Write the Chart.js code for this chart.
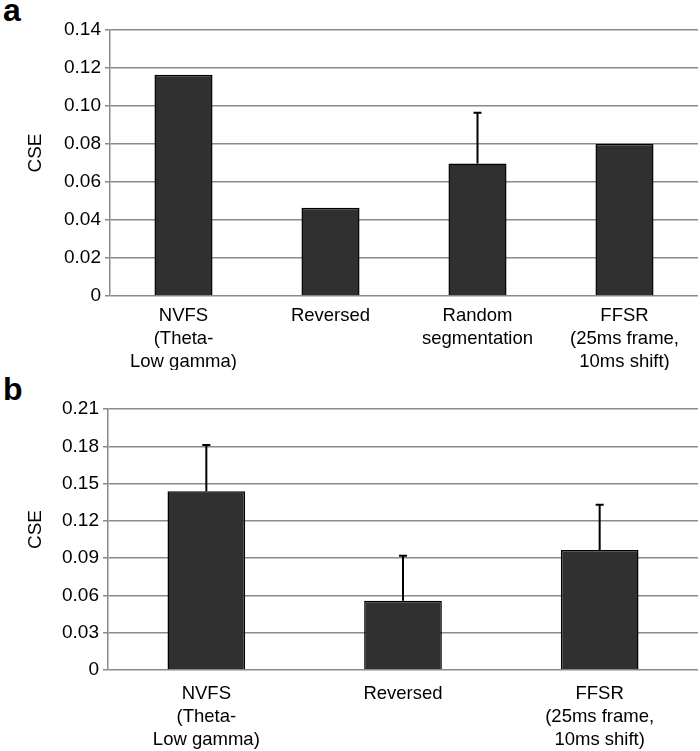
<!DOCTYPE html>
<html>
<head>
<meta charset="utf-8">
<script src="https://cdn.jsdelivr.net/npm/chart.js@4"></script>
<style>
  body { margin: 0; background: #fff; font-family: "Liberation Sans", Arial, sans-serif; }
  .wrap { position: relative; width: 700px; height: 751px; }
  .panel { position: absolute; left: 0; }
  .tag { position: absolute; left: 3px; font: bold 32px "Liberation Sans", Arial, sans-serif; color: #000; }
</style>
</head>
<body>
<div class="wrap">
  <div class="tag" style="top:-8px">a</div>
  <div class="tag" style="top:371px">b</div>
  <canvas id="chartA" class="panel" style="top:0" width="700" height="370"></canvas>
  <canvas id="chartB" class="panel" style="top:375px" width="700" height="376"></canvas>
</div>
<script>
// panel a
const labelsA = [['NVFS', '(Theta-', 'Low gamma)'], 'Reversed', ['Random', 'segmentation'], ['FFSR', '(25ms frame,', '10ms shift)']];
const cseA = [0.1165, 0.0465, 0.0698, 0.080];
const errA = [0, 0, 0.0267, 0];
const ticksA = [0, 0.02, 0.04, 0.06, 0.08, 0.10, 0.12, 0.14];

// panel b
const labelsB = [['NVFS', '(Theta-', 'Low gamma)'], 'Reversed', ['FFSR', '(25ms frame,', '10ms shift)']];
const cseB = [0.1438, 0.0558, 0.0966];
const errB = [0.0372, 0.0362, 0.0364];
const ticksB = [0, 0.03, 0.06, 0.09, 0.12, 0.15, 0.18, 0.21];

const family = '"Liberation Sans", Arial, sans-serif';
const yFont = { family: family, size: 19 };
const xFont = { family: family, size: 18.5, lineHeight: 1.25 };

// upper error bars + axis title, drawn through the chart's own scales
const extras = {
  id: 'extras',
  afterDatasetsDraw(chart) {
    const errs = chart.options.plugins.extras.errors;
    const meta = chart.getDatasetMeta(0);
    const y = chart.scales.y;
    const vals = chart.data.datasets[0].data;
    const ctx = chart.ctx;
    ctx.save();
    ctx.strokeStyle = '#000';
    ctx.lineWidth = 2;
    meta.data.forEach((bar, i) => {
      if (!errs[i]) return;
      const top = y.getPixelForValue(vals[i] + errs[i]);
      ctx.beginPath();
      ctx.moveTo(bar.x, bar.y);
      ctx.lineTo(bar.x, top);
      ctx.moveTo(bar.x - 4, top);
      ctx.lineTo(bar.x + 4, top);
      ctx.stroke();
    });
    // y title, sits a little above the middle like the original
    ctx.translate(36, (y.top + y.bottom) / 2 - 10);
    ctx.rotate(-Math.PI / 2);
    ctx.fillStyle = '#000';
    ctx.font = '19px ' + family;
    ctx.textAlign = 'center';
    ctx.textBaseline = 'middle';
    ctx.fillText('CSE', 0, 0);
    ctx.restore();
  }
};

function makeChart(id, labels, values, errs, ticks, yWidth, xHeight, padTop, xPad) {
  return new Chart(document.getElementById(id), {
    type: 'bar',
    data: {
      labels: labels,
      datasets: [{
        data: values,
        backgroundColor: '#303030',
        borderColor: '#000',
        borderWidth: 1.5,
        categoryPercentage: 1,
        barPercentage: 0.395
      }]
    },
    options: {
      responsive: false,
      animation: false,
      layout: { padding: { top: padTop, right: 2, left: 0, bottom: 0 } },
      plugins: {
        legend: { display: false },
        tooltip: { enabled: false },
        extras: { errors: errs }
      },
      scales: {
        x: {
          grid: { display: false },
          border: { display: false },
          ticks: { color: '#000', font: xFont, padding: xPad, maxRotation: 0, autoSkip: false },
          afterFit(s) { s.height = xHeight; }
        },
        y: {
          min: ticks[0],
          max: ticks[ticks.length - 1],
          afterBuildTicks(s) { s.ticks = ticks.map(v => ({ value: v })); },
          grid: { color: '#8a8a8a', lineWidth: 1.5, tickLength: 5 },
          border: { color: '#8a8a8a', width: 1.5 },
          ticks: {
            color: '#000', font: yFont, padding: 4,
            callback: v => v === 0 ? '0' : v.toFixed(2)
          },
          afterFit(s) { s.width = yWidth; }
        }
      }
    },
    plugins: [extras]
  });
}

makeChart('chartA', labelsA, cseA, errA, ticksA, 110, 74, 30, 0);
makeChart('chartB', labelsB, cseB, errB, ticksB, 108, 81, 34, 4);
</script>
</body>
</html>
